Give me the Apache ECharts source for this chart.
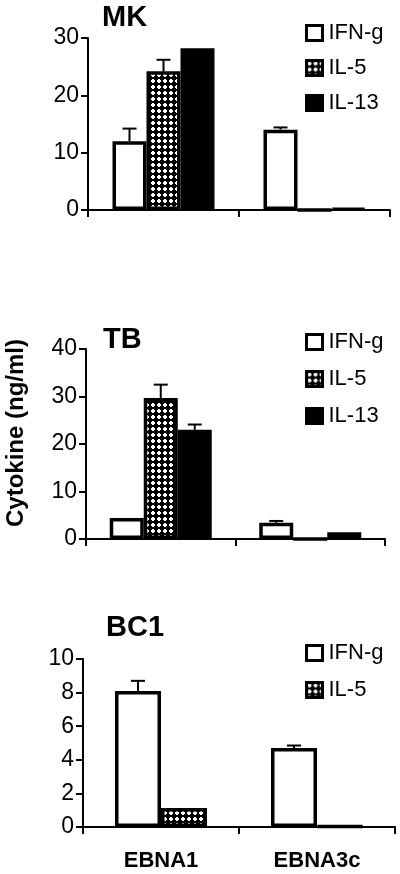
<!DOCTYPE html>
<html style="height: 100%">
 <head>
  <meta charset="utf-8" />
  <script type="text/javascript" src="https://cdn.jsdelivr.net/npm/echarts@6/dist/echarts.min.js"></script>
 </head>
 <body style="height: 100%; margin: 0; background: #fff">
  <div id="main" style="width:400px;height:874px;"></div>
  <script type="text/javascript">
   // data
   var categories = ['EBNA1', 'EBNA3c'];
   var cytokines = ['IFN-g', 'IL-5', 'IL-13'];

   var mkIfn = [12.0, 14.0];
   var mkIl5 = [24.2, 0];
   var mkIl13 = [28.2, 0.3];
   var mkIfnErr = [2.2, 0.4];
   var mkIl5Err = [2.0, 0];
   var mkIl13Err = [0, 0];

   var tbIfn = [4.4, 3.4];
   var tbIl5 = [29.7, 0];
   var tbIl13 = [23.0, 1.4];
   var tbIfnErr = [0, 0.4];
   var tbIl5Err = [2.8, 0];
   var tbIl13Err = [1.1, 0];

   var bcIfn = [8.1, 4.7];
   var bcIl5 = [1.13, 0.05];
   var bcIfnErr = [0.6, 0.15];
   var bcIl5Err = [0, 0];

   var FONT = 'Liberation Sans, Arial, sans-serif';

   // checkered fill for IL-5
   var pat = document.createElement('canvas');
   pat.width = 6; pat.height = 6;
   var ctx = pat.getContext('2d');
   ctx.fillStyle = '#000';
   ctx.fillRect(0, 0, 6, 6);
   ctx.fillStyle = '#fff';
   ctx.fillRect(1, 2, 4, 2);
   ctx.fillRect(2, 1, 2, 4);
   var il5Fill = { image: pat, repeat: 'repeat' };

   var styles = {
     'IFN-g': { color: '#fff', borderColor: '#000', borderWidth: 3.5 },
     'IL-5': { color: il5Fill, borderColor: '#000', borderWidth: 3.5 },
     'IL-13': { color: '#000', borderColor: '#000', borderWidth: 3.5 }
   };

   function barSeries(name, data, idx, width) {
     return {
       type: 'bar', name: name, data: data,
       xAxisIndex: idx, yAxisIndex: idx,
       barWidth: width, barGap: '0%',
       itemStyle: styles[name],
       emphasis: { disabled: true },
       animation: false
     };
   }

   // upper error bars, drawn from the bar top upward
   function errSeries(idx, vals, errs, width) {
     var n = vals.length;
     var data = [];
     vals.forEach(function (row, s) {
       row.forEach(function (v, c) {
         if (errs[s][c] > 0) data.push([c, v, v + errs[s][c], s]);
       });
     });
     return {
       type: 'custom', xAxisIndex: idx, yAxisIndex: idx, z: 5,
       animation: false, silent: true,
       encode: { x: 0, y: [1, 2] },
       data: data,
       renderItem: function (params, api) {
         var c = api.value(0), s = api.value(3);
         var lo = api.coord([c, api.value(1)]);
         var hi = api.coord([c, api.value(2)]);
         var x = lo[0] + (s - (n - 1) / 2) * width;
         var st = { stroke: '#000', lineWidth: 2 };
         return { type: 'group', children: [
           { type: 'line', shape: { x1: x, y1: lo[1], x2: x, y2: hi[1] }, style: st },
           { type: 'line', shape: { x1: x - 7, y1: hi[1], x2: x + 7, y2: hi[1] }, style: st }
         ] };
       }
     };
   }

   var grids = [
     { left: 88, right: 10, top: 38, height: 172 },
     { left: 86, right: 15, top: 349, height: 190 },
     { left: 83, right: 5, top: 659, height: 168 }
   ];

   function xAx(idx, showLabel) {
     return {
       type: 'category', gridIndex: idx, data: categories,
       axisLine: { lineStyle: { color: '#000', width: 2 } },
       axisTick: { show: true, length: 7, lineStyle: { color: '#000', width: 2 } },
       axisLabel: { show: showLabel, color: '#000', fontFamily: FONT, fontWeight: 'bold', fontSize: 22, margin: 23 }
     };
   }
   function yAx(idx, max, step) {
     return {
       type: 'value', gridIndex: idx, min: 0, max: max, interval: step,
       axisLine: { show: true, lineStyle: { color: '#000', width: 2 } },
       axisTick: { show: true, length: 7, lineStyle: { color: '#000', width: 2 } },
       splitLine: { show: false },
       axisLabel: { color: '#000', fontFamily: FONT, fontSize: 23, margin: 9 }
     };
   }
   function legend(top, names, gap) {
     return {
       data: names, orient: 'vertical', left: 305, top: top, padding: 0,
       itemWidth: 16, itemHeight: 15, itemGap: gap, selectedMode: false,
       icon: 'rect',
       itemStyle: { borderWidth: 3, borderColor: '#000' },
       textStyle: { color: '#000', fontFamily: FONT, fontSize: 22, padding: [0, 0, 0, 1] }
     };
   }
   function title(text, x, y) {
     return {
       type: 'text', x: x, y: y,
       style: { text: text, fill: '#000', font: 'bold 29px ' + FONT, verticalAlign: 'middle' }
     };
   }

   var myChart = echarts.init(document.getElementById('main'));
   var option = {
     backgroundColor: '#fff',
     grid: grids,
     xAxis: [xAx(0, false), xAx(1, false), xAx(2, true)],
     yAxis: [yAx(0, 30, 10), yAx(1, 40, 10), yAx(2, 10, 2)],
     legend: [
       legend(22, cytokines, 13),
       legend(331, cytokines, 15),
       legend(642, cytokines.slice(0, 2), 15)
     ],
     series: [
       barSeries('IFN-g', mkIfn, 0, 34),
       barSeries('IL-5', mkIl5, 0, 34),
       barSeries('IL-13', mkIl13, 0, 34),
       errSeries(0, [mkIfn, mkIl5, mkIl13], [mkIfnErr, mkIl5Err, mkIl13Err], 34),
       barSeries('IFN-g', tbIfn, 1, 34),
       barSeries('IL-5', tbIl5, 1, 34),
       barSeries('IL-13', tbIl13, 1, 34),
       errSeries(1, [tbIfn, tbIl5, tbIl13], [tbIfnErr, tbIl5Err, tbIl13Err], 34),
       barSeries('IFN-g', bcIfn, 2, 46),
       barSeries('IL-5', bcIl5, 2, 46),
       errSeries(2, [bcIfn, bcIl5], [bcIfnErr, bcIl5Err], 46)
     ],
     graphic: [
       title('MK', 102, 18),
       title('TB', 103, 340),
       title('BC1', 106, 628),
       {
         type: 'text', x: 16, y: 433, rotation: Math.PI / 2,
         style: { text: 'Cytokine (ng/ml)', fill: '#000', font: 'bold 24px ' + FONT, align: 'center', verticalAlign: 'middle' }
       }
     ]
   };
   myChart.setOption(option);
  </script>
 </body>
</html>
